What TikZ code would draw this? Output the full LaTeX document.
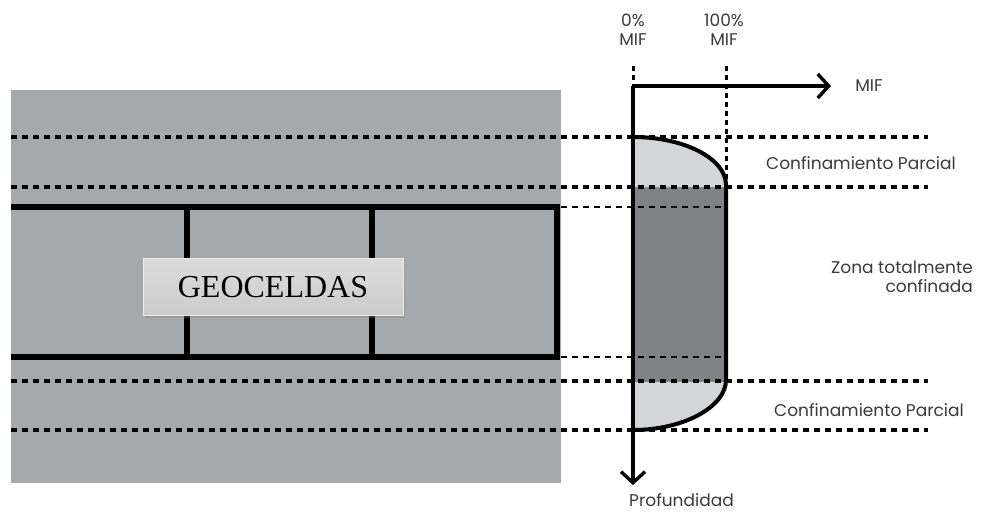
\documentclass[tikz,border=0pt]{standalone}
\usepackage{fontspec}
\setmainfont{Liberation Serif}
\newfontfamily\gothic{Poppins}
\usetikzlibrary{arrows.meta,shadows}
\definecolor{soilgray}{HTML}{A6A9AC}
\definecolor{lightzone}{HTML}{D3D5D8}
\definecolor{darkzone}{HTML}{7F8286}
\definecolor{labelgray}{HTML}{3A3A3A}
\tikzset{
  dotline/.style={line width=3.6pt, dash pattern=on 6pt off 5pt, black},
  cellline/.style={line width=6pt, black},
  axisline/.style={line width=3.6pt, black},
  lbl/.style={font=\gothic\fontsize{17}{18.5}\selectfont, text=labelgray, inner sep=0pt},
  geobox/.style={draw=white!85!gray, line width=0.6pt, top color=white!72!gray, bottom color=white!60!gray,
    drop shadow={shadow xshift=2pt, shadow yshift=-2pt, opacity=0.35},
    minimum width=260pt, minimum height=57pt, inner sep=0pt,
    font=\fontsize{32}{34}\selectfont}
}
\begin{document}
\begin{tikzpicture}[x=1pt,y=-1pt]
\useasboundingbox (0,0) rectangle (981,513);
% soil
\fill[soilgray] (11,90) rectangle (561,483);
% geocell walls
\draw[cellline] (11,207) -- (557,207) -- (557,357) -- (11,357);
\draw[cellline] (187,207) -- (187,357);
\draw[cellline] (372,207) -- (372,357);
% confinement zones
\fill[darkzone] (633,137) .. controls (684,137) and (726,158.5) .. (726,185) -- (726,380) .. controls (726,406.5) and (684,430) .. (633,430) -- cycle;
\begin{scope}
  \clip (600,100) rectangle (760,187) (600,382) rectangle (760,460);
  \fill[lightzone] (633,137) .. controls (684,137) and (726,158.5) .. (726,185) -- (726,380) .. controls (726,406.5) and (684,430) .. (633,430) -- cycle;
\end{scope}
% dotted horizontals
\coordinate (d1l) at (11,137); \coordinate (d1r) at (928,137);
\coordinate (d2l) at (11,187); \coordinate (d2r) at (928,187);
\coordinate (d3l) at (11,381); \coordinate (d3r) at (928,381);
\coordinate (d4l) at (11,430); \coordinate (d4r) at (928,430);
\draw[dotline] (d1l) -- (d1r);
\draw[dotline] (d2l) -- (d2r);
\draw[dotline] (d3l) -- (d3r);
\draw[dotline] (d4l) -- (d4r);
\coordinate (c1l) at (561,207); \coordinate (c1r) at (724,207);
\coordinate (c2l) at (561,357); \coordinate (c2r) at (724,357);
\draw[dotline, line width=2.8pt] (c1l) -- (c1r);
\draw[dotline, line width=2.8pt] (c2l) -- (c2r);
% 0% and 100% lines
\coordinate (p0t) at (633,66); \coordinate (p0b) at (633,86);
\coordinate (p100t) at (726,66); \coordinate (p100b) at (726,185);
\draw[line width=3pt, dash pattern=on 5pt off 4pt] (p0t) -- (p0b);
\draw[line width=3pt, dash pattern=on 5pt off 4pt] (p100t) -- (p100b);
% curve outline
\draw[line width=4pt] (633,137) .. controls (684,137) and (726,158.5) .. (726,185) -- (726,380) .. controls (726,406.5) and (684,430) .. (633,430);
% axes
\coordinate (o) at (633,86);
\coordinate (xend) at (831,86);
\coordinate (yend) at (633,485);
\draw[axisline, -{Straight Barb[length=11pt,width=24pt,line width=3.4pt]}] (o) -- (xend);
\draw[axisline, -{Straight Barb[length=11pt,width=24pt,line width=3.4pt]}] (o) -- (yend);
% labels
\node[lbl, align=center] (l0) at (633,30) {0\%\\MIF};
\node[lbl, align=center] (l100) at (724,30) {100\%\\MIF};
\node[lbl] (lmif) at (869,86) {MIF};
\node[lbl] (lcp1) at (861,163) {Confinamiento Parcial};
\node[lbl, align=right, anchor=east] (lzona) at (973,277) {Zona totalmente\\confinada};
\node[lbl] (lcp2) at (869,410) {Confinamiento Parcial};
\node[lbl, anchor=west] (lprof) at (629,500) {Profundidad};
% geoceldas label box
\node[geobox] (geo) at (273,287) {GEOCELDAS};
\end{tikzpicture}
\end{document}
